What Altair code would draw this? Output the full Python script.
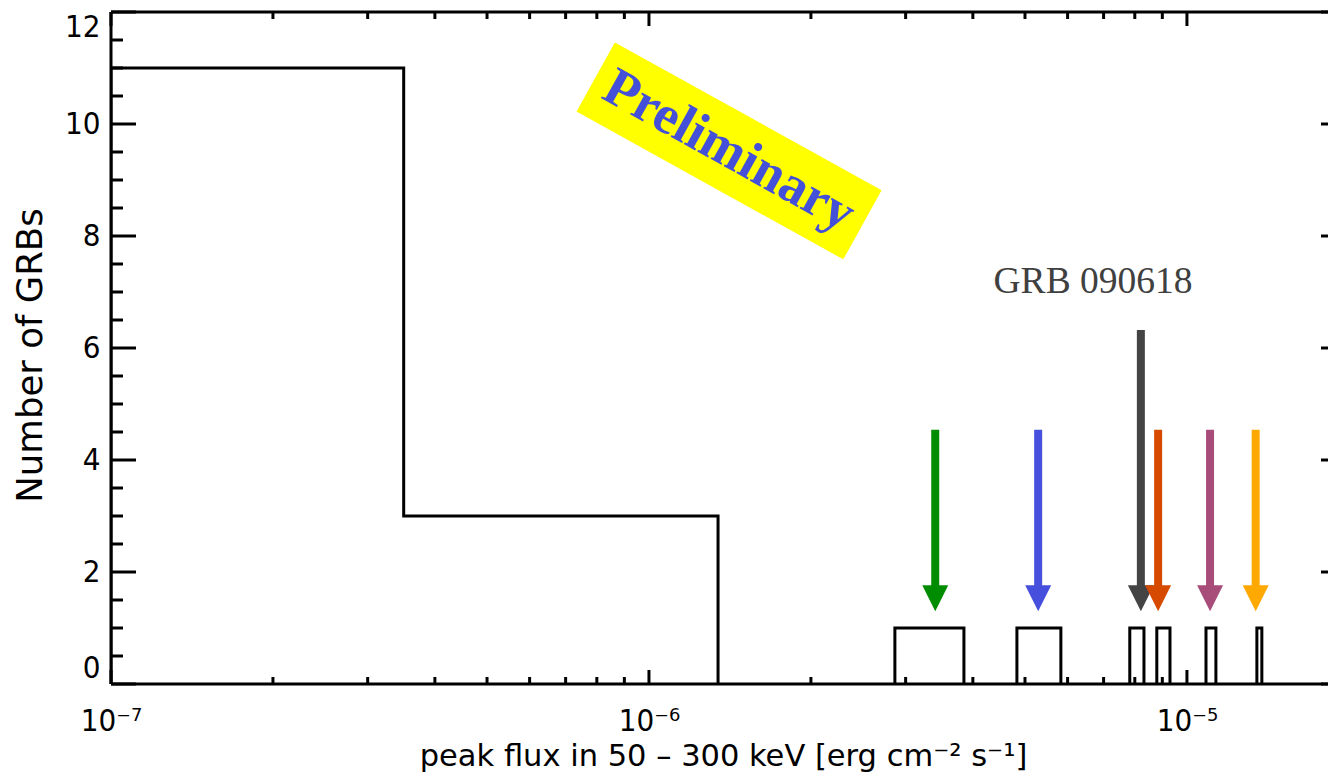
import altair as alt
import pandas as pd

# ---------------- data ----------------
# main histogram part (bin edges and counts)
main_edges = [1.0e-7, 3.5e-7, 1.344e-6]
main_counts = [11, 3]

# isolated single-burst bins (low edge, high edge, count)
single_lo = [2.865e-6, 4.83e-6, 7.83e-6, 8.79e-6, 1.085e-5, 1.349e-5]
single_hi = [3.85e-6, 5.83e-6, 8.32e-6, 9.30e-6, 1.132e-5, 1.378e-5]
single_counts = [1, 1, 1, 1, 1, 1]

# arrows marking the individual bursts
arrow_x = [3.405e-6, 5.29e-6, 8.21e-6, 8.84e-6, 1.104e-5, 1.342e-5]
arrow_top = [4.54, 4.54, 6.32, 4.54, 4.54, 4.54]
arrow_tip = [1.30, 1.30, 1.30, 1.30, 1.30, 1.30]
arrow_colors = ["#008C00", "#4650DC", "#444444", "#D64A00", "#A84C7A", "#FFA800"]

# axis ticks and labels
x_major_ticks = [1e-7, 1e-6, 1e-5]
x_tick_labels = ["10⁻⁷", "10⁻⁶", "10⁻⁵"]
x_minor_ticks = [2e-7, 3e-7, 4e-7, 5e-7, 6e-7, 7e-7, 8e-7, 9e-7,
                 2e-6, 3e-6, 4e-6, 5e-6, 6e-6, 7e-6, 8e-6, 9e-6]
y_major_ticks = [0, 2, 4, 6, 8, 10, 12]
y_minor_ticks = [0.5, 1, 1.5, 2.5, 3, 3.5, 4.5, 5, 5.5, 6.5, 7, 7.5,
                 8.5, 9, 9.5, 10.5, 11, 11.5]

x_domain = [1e-7, 1.829e-5]
y_domain = [0, 12]

# annotations (data coordinates)
prelim_text = "Preliminary"
prelim_x = [1.409e-6]
prelim_y = [9.52]
grb_text = "GRB 090618"
grb_x = [6.69e-6]
grb_y = [6.98]

# ---------------- build tables ----------------
rows = []
pts = [(main_edges[0], 0)]
for i, c in enumerate(main_counts):
    pts.append((main_edges[i], c))
    pts.append((main_edges[i + 1], c))
pts.append((main_edges[-1], 0))
for o, (x, y) in enumerate(pts):
    rows.append({"kind": "hist", "g": "main", "o": o, "x": x, "y": y})
for k, (lo, hi, c) in enumerate(zip(single_lo, single_hi, single_counts)):
    for o, (x, y) in enumerate([(lo, 0), (lo, c), (hi, c), (hi, 0)]):
        rows.append({"kind": "hist", "g": f"s{k}", "o": o, "x": x, "y": y})
for v in x_major_ticks:
    rows.append({"kind": "xmaj", "x": v})
for v in x_minor_ticks:
    rows.append({"kind": "xmin", "x": v})
for v in y_major_ticks:
    rows.append({"kind": "ymaj", "y": v})
for v in y_minor_ticks:
    rows.append({"kind": "ymin", "y": v})
df = pd.DataFrame(rows)

arrows = pd.DataFrame({"x": arrow_x, "ytop": arrow_top, "ytip": arrow_tip,
                       "c": arrow_colors, "o": list(range(len(arrow_x)))})
prelim = pd.DataFrame({"x": prelim_x, "y": prelim_y, "t": [prelim_text]})
grb = pd.DataFrame({"x": grb_x, "y": grb_y, "t": [grb_text]})
one = pd.DataFrame({"a": [0]})

W, H = 1217, 672
FONT = "DejaVu Sans"
LFONT = "'DejaVu Sans Condensed', 'DejaVu Sans', sans-serif"
label_expr = " : ".join(
    f"datum.value < {v * 3.16:.3g} ? '{lab}'" for v, lab in zip(x_major_ticks[:-1], x_tick_labels[:-1])
) + f" : '{x_tick_labels[-1]}'"

xs = alt.Scale(type="log", domain=x_domain, nice=False)
ys = alt.Scale(domain=y_domain, nice=False, zero=False)

x_axis = alt.Axis(values=x_major_ticks, labelExpr=label_expr, ticks=False, tickSize=0,
                  domain=False, grid=False, labelFont=LFONT, labelFontSize=31,
                  labelColor="black", labelPadding=46, labelBaseline="alphabetic",
                  labelFlush=False, labelOverlap=False,
                  title="peak flux in 50 – 300 keV [erg cm⁻² s⁻¹]",
                  titleFont=FONT, titleFontSize=30.5, titleFontWeight="normal",
                  titleColor="black", titleX=612, titleY=81,
                  titleBaseline="alphabetic", titleAlign="center")
y_axis = alt.Axis(values=y_major_ticks, format="d", ticks=False, tickSize=0, domain=False,
                  grid=False, labelFont=LFONT, labelFontSize=31, labelColor="black",
                  labelPadding=11, labelFlush=True, labelOverlap=False,
                  title="Number of GRBs", titleFont=FONT, titleFontSize=35.5,
                  titleFontWeight="normal", titleColor="black", titleAngle=270,
                  titleX=-81, titleY=343, titleBaseline="middle", titleAlign="center")

base = alt.Chart(df)

hist = base.transform_filter(alt.datum.kind == "hist").mark_line(
    color="black", strokeWidth=3, strokeJoin="miter", clip=True
).encode(
    x=alt.X("x:Q", scale=xs, axis=x_axis),
    y=alt.Y("y:Q", scale=ys, axis=y_axis),
    detail="g:N",
    order="o:Q",
)

frame_left = alt.Chart(one).mark_rule(color="black", strokeWidth=3).encode(
    x=alt.value(0), y=alt.value(0), y2=alt.value(H))
frame_top = alt.Chart(one).mark_rule(color="black", strokeWidth=3).encode(
    x=alt.value(0), x2=alt.value(W), y=alt.value(0))
frame_bottom = alt.Chart(one).mark_rule(color="black", strokeWidth=3).encode(
    x=alt.value(0), x2=alt.value(W), y=alt.value(H))


def xticks(kind, y0, y1):
    return base.transform_filter(alt.datum.kind == kind).mark_rule(
        color="black", strokeWidth=3).encode(
        x=alt.X("x:Q", scale=xs), y=alt.value(y0), y2=alt.value(y1))


def yticks(kind, x0, x1):
    return base.transform_filter(alt.datum.kind == kind).mark_rule(
        color="black", strokeWidth=3).encode(
        y=alt.Y("y:Q", scale=ys), x=alt.value(x0), x2=alt.value(x1))


ticks = [
    xticks("xmaj", H, H - 14), xticks("xmin", H, H - 7),
    xticks("xmaj", 0, 14), xticks("xmin", 0, 7),
    yticks("ymaj", 0, 25), yticks("ymin", 0, 12),
    yticks("ymaj", W - 7, W),
]

box_path = "M-1,-0.259L1,-0.259L1,0.259L-1,0.259Z"
box = alt.Chart(prelim).mark_point(
    shape=box_path, size=305 * 305, angle=29, filled=True, color="#FFFF00",
    opacity=1, strokeWidth=0
).encode(x=alt.X("x:Q", scale=xs), y=alt.Y("y:Q", scale=ys))
box_text = alt.Chart(prelim).mark_text(
    angle=29, font="Liberation Serif", fontWeight="bold", fontSize=54,
    color="#4450D8", align="center", baseline="middle"
).encode(x=alt.X("x:Q", scale=xs), y=alt.Y("y:Q", scale=ys), text="t:N")

grb_label = alt.Chart(grb).mark_text(
    font="Liberation Serif", fontSize=37.5, color="#404040", align="center",
    baseline="alphabetic"
).encode(x=alt.X("x:Q", scale=xs), y=alt.Y("y:Q", scale=ys), text="t:N")

shaft = alt.Chart(arrows).mark_rule(strokeWidth=8, y2Offset=-20).encode(
    x=alt.X("x:Q", scale=xs), y=alt.Y("ytop:Q", scale=ys), y2="ytip:Q",
    color=alt.Color("c:N", scale=None), order="o:Q")
head = alt.Chart(arrows).mark_point(
    shape="M-1,-2L1,-2L0,0Z", size=26 * 26, filled=True, opacity=1, strokeWidth=0
).encode(x=alt.X("x:Q", scale=xs), y=alt.Y("ytip:Q", scale=ys),
         color=alt.Color("c:N", scale=None), order="o:Q")

chart = alt.layer(
    box, box_text, grb_label, hist, *ticks, frame_left, frame_top, frame_bottom, shaft, head
).properties(
    width=W, height=H,
    autosize=alt.AutoSizeParams(type="none"),
    padding={"left": 103, "top": 4, "right": 0, "bottom": 88},
    background="white",
).configure_view(stroke=None)

chart.save("out.html", embed_options={"renderer": "svg", "actions": False})
